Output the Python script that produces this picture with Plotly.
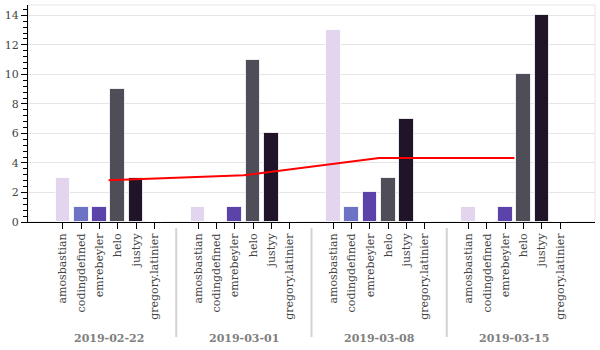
import plotly.graph_objects as go

dates = ["2019-02-22", "2019-03-01", "2019-03-08", "2019-03-15"]
names = ["amosbastian", "codingdefined", "emrebeyler", "helo", "justyy", "gregory.latinier"]

amosbastian = [3, 1, 13, 1]
codingdefined = [1, 0, 1, 0]
emrebeyler = [1, 1, 2, 1]
helo = [9, 11, 3, 10]
justyy = [3, 6, 7, 14]
gregory_latinier = [0, 0, 0, 0]

average = [2.83, 3.17, 4.33, 4.33]

colors = ["#e3d5ee", "#6c73c4", "#5c43a9", "#4f4d57", "#1f1428", "#120a18"]

series = [amosbastian, codingdefined, emrebeyler, helo, justyy, gregory_latinier]

GROUP_PAD = 1.4
n = len(names)
step = n + GROUP_PAD

def pos(g, i):
    return g * step + i

xs, ys, cs, tickvals, ticktext = [], [], [], [], []
for g in range(len(dates)):
    for i, nm in enumerate(names):
        xs.append(pos(g, i))
        ys.append(series[i][g])
        cs.append(colors[i])
        tickvals.append(pos(g, i))
        ticktext.append(nm)

font_family = "DejaVu Serif"

fig = go.Figure()
fig.add_trace(go.Bar(
    x=xs, y=ys, width=0.8,
    marker=dict(color=cs, line=dict(color="rgba(255,255,255,0.8)", width=1)),
    showlegend=False,
))
fig.add_trace(go.Scatter(
    x=[pos(g, (n - 1) / 2) for g in range(len(dates))], y=average,
    mode="lines", line=dict(color="red", width=2), showlegend=False,
))

total = (len(dates) - 1) * step + (n - 1)
span = total + 1
pad = 0.1 * (span + (len(dates) - 1) * GROUP_PAD - (len(dates) - 1) * GROUP_PAD) / 2
pad = 0.1 * (len(dates) * n + (len(dates) - 1) * GROUP_PAD) / 2
x_range = [-0.5 - pad, total + 0.5 + pad]

shapes = [dict(type="rect", xref="paper", yref="paper", x0=0, x1=1, y0=0, y1=1,
               line=dict(color="#e5e5e5", width=1), layer="below")]
for g in range(len(dates) - 1):
    xsep = pos(g, n - 1) + 0.5 + GROUP_PAD / 2
    shapes.append(dict(type="line", xref="x", yref="paper", x0=xsep, x1=xsep,
                       y0=-0.028, y1=-0.53, line=dict(color="lightgrey", width=2)))

annotations = []
for g, d in enumerate(dates):
    annotations.append(dict(x=pos(g, (n - 1) / 2), xref="x", y=-0.539, yref="paper",
                            text="<b>%s</b>" % d, showarrow=False, yanchor="middle",
                            font=dict(family=font_family, size=11, color="grey")))

fig.update_layout(
    width=600, height=350,
    margin=dict(l=26, r=5, t=5, b=128),
    paper_bgcolor="white", plot_bgcolor="white",
    shapes=shapes, annotations=annotations,
    font=dict(family=font_family, size=11, color="#444"),
    bargap=0,
)
fig.update_xaxes(
    range=x_range, tickmode="array", tickvals=tickvals, ticktext=ticktext,
    tickangle=-90, showline=True, linecolor="black", linewidth=1,
    ticks="outside", ticklen=6, tickcolor="black", showgrid=False, zeroline=False,
    tickfont=dict(family=font_family, size=11, color="#444"),
)
fig.update_yaxes(
    range=[0, 14.7], dtick=2, showline=True, linecolor="black", linewidth=1,
    ticks="outside", ticklen=6, tickcolor="black", showgrid=True, gridcolor="#e5e5e5",
    zeroline=False, tickfont=dict(family=font_family, size=11, color="#444"),
    minor=dict(dtick=0.4, ticks="outside", ticklen=4, tickcolor="black", showgrid=False),
)

fig.write_html("out.html")
